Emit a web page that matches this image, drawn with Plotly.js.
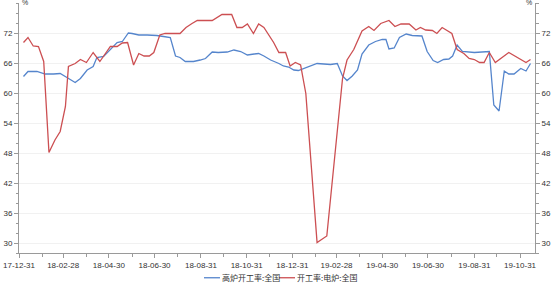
<!DOCTYPE html>
<html>
<head>
<meta charset="utf-8">
<script src="https://cdn.plot.ly/plotly-3.0.1.min.js"></script>
<style>
html,body{margin:0;padding:0;background:#fff;}
#chart{width:553px;height:283px;}
</style>
</head>
<body>
<div id="chart"></div>
<script>
const blueName = "高炉开工率:全国";
const redName = "开工率:电炉:全国";

const blueDates = ["2018-01-06","2018-01-12","2018-01-24","2018-02-04","2018-02-15","2018-02-24","2018-03-05","2018-03-16","2018-03-23","2018-04-01","2018-04-09","2018-04-14","2018-04-23","2018-05-02","2018-05-11","2018-05-18","2018-05-26","2018-05-31","2018-06-09","2018-06-20","2018-06-29","2018-07-03","2018-07-12","2018-07-21","2018-07-28","2018-08-03","2018-08-10","2018-08-21","2018-08-30","2018-09-06","2018-09-15","2018-09-23","2018-10-05","2018-10-14","2018-10-23","2018-11-01","2018-11-10","2018-11-16","2018-11-23","2018-12-02","2018-12-13","2018-12-19","2018-12-26","2019-01-02","2019-01-08","2019-01-15","2019-01-24","2019-02-02","2019-02-11","2019-02-20","2019-03-01","2019-03-08","2019-03-14","2019-03-21","2019-03-28","2019-04-03","2019-04-12","2019-04-21","2019-04-30","2019-05-05","2019-05-09","2019-05-16","2019-05-23","2019-06-01","2019-06-09","2019-06-22","2019-06-29","2019-07-07","2019-07-13","2019-07-21","2019-07-28","2019-08-02","2019-08-08","2019-08-15","2019-08-31","2019-09-20","2019-09-26","2019-10-03","2019-10-10","2019-10-16","2019-10-23","2019-11-01","2019-11-08","2019-11-14"];
const blueValues = [63.3,64.3,64.3,63.8,63.8,63.9,63.1,62.1,62.9,64.6,65.3,67.1,67.3,68.7,70.1,70.3,72.0,71.9,71.6,71.6,71.6,71.5,71.3,71.1,67.4,67.1,66.3,66.3,66.6,66.9,68.2,68.1,68.2,68.6,68.3,67.6,67.8,67.9,67.4,66.6,65.9,65.4,65.2,64.6,64.5,64.9,65.5,65.9,65.8,65.7,65.9,63.4,62.5,63.4,64.6,67.8,69.6,70.3,70.7,70.7,68.8,69.0,71.1,71.8,71.5,71.4,68.3,66.5,66.1,66.7,66.8,67.4,69.6,68.3,68.1,68.3,57.6,56.4,64.4,63.8,63.8,64.9,64.4,65.9];

const redDates = ["2018-01-06","2018-01-12","2018-01-19","2018-01-26","2018-02-02","2018-02-09","2018-02-17","2018-02-24","2018-03-03","2018-03-07","2018-03-16","2018-03-23","2018-03-31","2018-04-09","2018-04-18","2018-05-02","2018-05-11","2018-05-18","2018-05-25","2018-06-02","2018-06-09","2018-06-16","2018-06-23","2018-06-29","2018-07-07","2018-07-14","2018-08-03","2018-08-11","2018-08-19","2018-08-26","2018-09-15","2018-09-28","2018-10-11","2018-10-18","2018-10-25","2018-11-01","2018-11-09","2018-11-16","2018-11-23","2018-11-30","2018-12-06","2018-12-13","2018-12-22","2018-12-28","2019-01-04","2019-01-11","2019-01-18","2019-02-02","2019-02-15","2019-03-08","2019-03-14","2019-03-23","2019-04-03","2019-04-12","2019-04-19","2019-04-28","2019-05-09","2019-05-17","2019-05-25","2019-06-05","2019-06-14","2019-06-20","2019-06-27","2019-07-06","2019-07-12","2019-07-19","2019-07-26","2019-08-01","2019-08-08","2019-08-17","2019-08-24","2019-08-31","2019-09-07","2019-09-13","2019-09-20","2019-09-28","2019-10-16","2019-11-08","2019-11-14"];
const redValues = [70.1,71.1,69.4,69.3,66.3,48.1,50.6,52.3,57.3,65.3,65.9,66.7,66.1,68.1,66.3,69.3,69.3,70.0,70.1,65.6,67.9,67.4,67.4,68.1,71.6,71.9,71.9,73.1,73.9,74.5,74.5,75.7,75.7,73.1,73.1,73.8,71.9,73.8,73.1,71.6,70.1,68.1,68.1,65.4,66.1,65.6,59.9,30.1,31.4,62.9,66.6,68.7,72.4,73.3,72.5,73.9,74.5,73.3,73.8,73.8,72.6,73.1,72.6,72.5,71.9,73.1,72.5,71.9,68.7,67.9,66.9,66.7,66.1,66.1,68.1,66.1,68.1,66.1,66.7];

const xTickVals = ["2017-12-31","2018-02-28","2018-04-30","2018-06-30","2018-08-31","2018-10-31","2018-12-31","2019-02-28","2019-04-30","2019-06-30","2019-08-31","2019-10-31"];
const xTickText = ["17-12-31","18-02-28","18-04-30","18-06-30","18-08-31","18-10-31","18-12-31","19-02-28","19-04-30","19-06-30","19-08-31","19-10-31"];
const xMinorVals = ["2018-01-31","2018-03-31","2018-05-31","2018-07-31","2018-09-30","2018-11-30","2019-01-31","2019-03-31","2019-05-31","2019-07-31","2019-09-30"];
const yTickVals = [30,36,42,48,54,60,66,72];

const blueColor = "#5585cc";
const redColor = "#cc4f52";
const axisColor = "#9a9a9a";
const textColor = "#333333";
const fontFam = "Liberation Sans, Arial, sans-serif";
const cjkFam = "Noto Sans CJK SC, sans-serif";

const traces = [
  {x: blueDates, y: blueValues, name: blueName, type: "scatter", mode: "lines",
   line: {color: blueColor, width: 1.3}},
  {x: redDates, y: redValues, name: redName, type: "scatter", mode: "lines",
   line: {color: redColor, width: 1.3}},
  {x: [xTickVals[0]], y: [null], yaxis: "y2", showlegend: false, hoverinfo: "skip", type: "scatter", mode: "lines"}
];

const yCommon = {
  range: [28, 78], tickmode: "array", tickvals: yTickVals,
  showline: true, linecolor: axisColor, linewidth: 1,
  ticks: "outside", ticklen: 4, tickcolor: axisColor, tickwidth: 1,
  zeroline: false,
  tickfont: {family: fontFam, size: 8, color: textColor},
  minor: {dtick: 2, tick0: 0, ticks: "outside", ticklen: 2.5, tickcolor: axisColor, showgrid: false}
};

// custom legend (short sample lines like the reference)
const legY = -0.099;
const legendItems = [
  {name: blueName, color: blueColor, x0: 0.3585, x1: 0.3895, tx: 0.3905},
  {name: redName, color: redColor, x0: 0.5039, x1: 0.5349, tx: 0.5358}
];

const layout = {
  width: 553, height: 283,
  margin: {l: 19, r: 18, t: 3, b: 30, autoexpand: false},
  paper_bgcolor: "#ffffff", plot_bgcolor: "#ffffff",
  showlegend: false,
  xaxis: {
    type: "date", range: ["2017-12-31", "2019-11-20"],
    tickmode: "array", tickvals: xTickVals, ticktext: xTickText,
    showline: true, linecolor: axisColor, linewidth: 1,
    ticks: "outside", ticklen: 4, tickcolor: axisColor,
    showgrid: false, zeroline: false,
    tickfont: {family: fontFam, size: 8, color: textColor},
    minor: {tickmode: "array", tickvals: xMinorVals, ticks: "outside", ticklen: 3, tickcolor: axisColor, showgrid: false}
  },
  yaxis: Object.assign({}, yCommon, {side: "left", showgrid: true, gridcolor: "#f1f1f1", gridwidth: 1}),
  yaxis2: Object.assign({}, yCommon, {side: "right", overlaying: "y", showgrid: false}),
  shapes: legendItems.map(it => ({type: "line", xref: "paper", yref: "paper",
    x0: it.x0, x1: it.x1, y0: legY, y1: legY, line: {color: it.color, width: 1.3}})),
  annotations: [
    {xref: "paper", yref: "paper", x: 0, y: 1, xanchor: "left", yanchor: "middle", yshift: 1, xshift: 1,
     text: "%", showarrow: false, font: {family: fontFam, size: 7, color: textColor}},
    {xref: "paper", yref: "paper", x: 1, y: 1, xanchor: "right", yanchor: "middle", yshift: 1, xshift: -1,
     text: "%", showarrow: false, font: {family: fontFam, size: 7, color: textColor}}
  ].concat(legendItems.map(it => ({xref: "paper", yref: "paper", x: it.tx, y: legY,
     xanchor: "left", yanchor: "middle", text: it.name, showarrow: false,
     font: {family: cjkFam, size: 8, color: textColor}})))
};

Plotly.newPlot("chart", traces, layout, {displayModeBar: false, staticPlot: true});
</script>
</body>
</html>
